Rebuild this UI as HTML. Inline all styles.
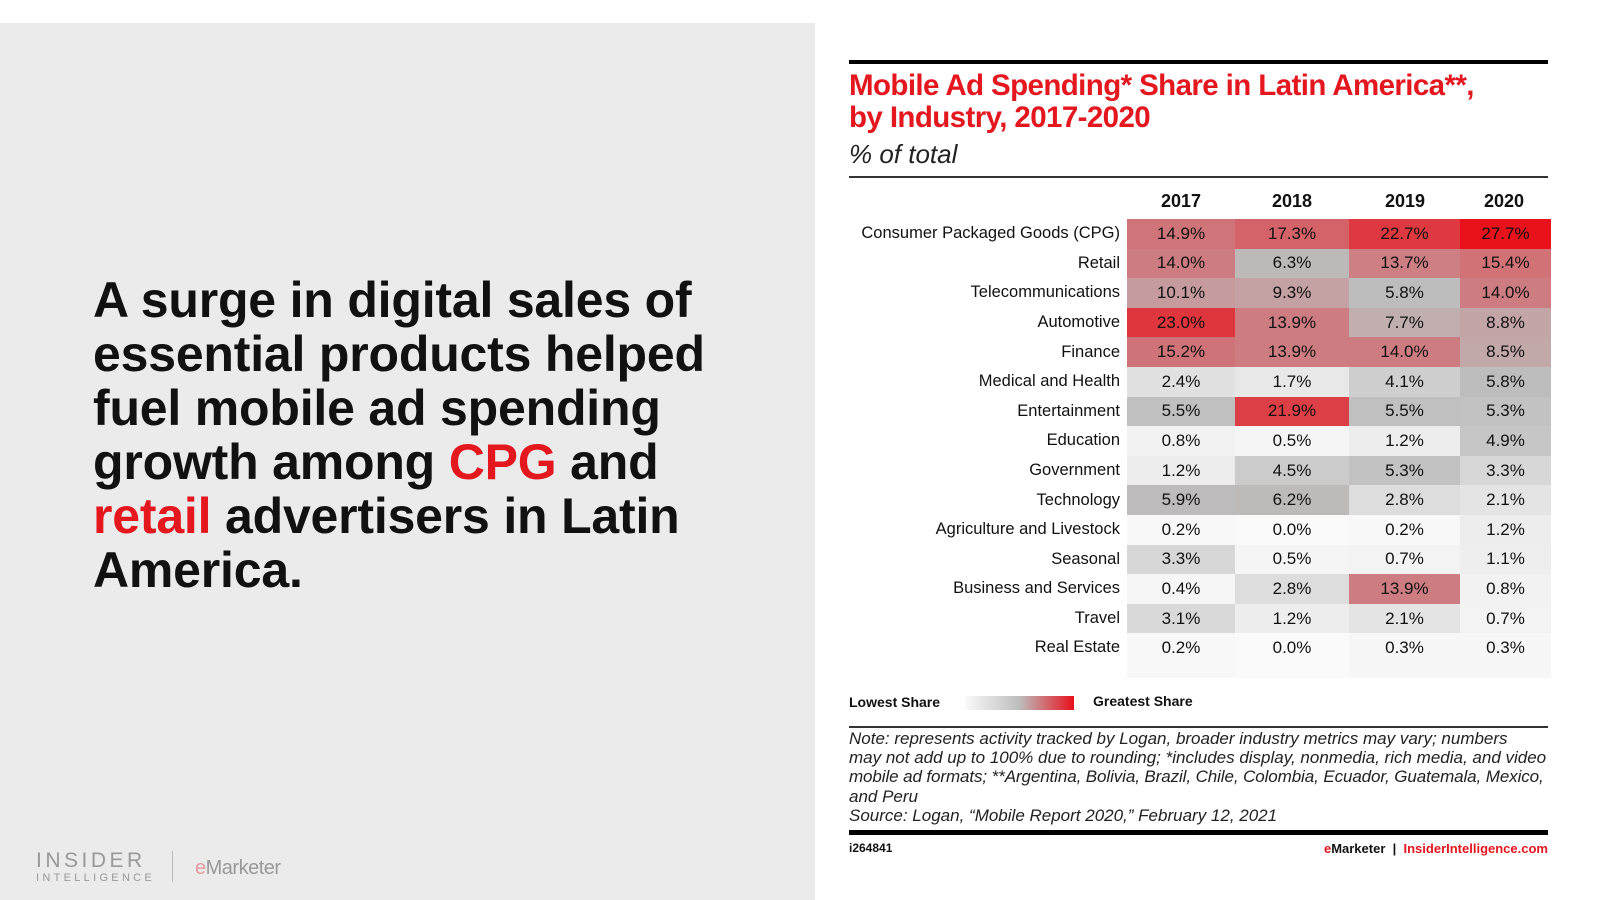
<!DOCTYPE html>
<html><head><meta charset="utf-8">
<style>
*{margin:0;padding:0;box-sizing:border-box}
body{width:1600px;height:900px;background:#fff;position:relative;overflow:hidden;font-family:"Liberation Sans",sans-serif;color:#111}
.abs{position:absolute}
#left{left:0;top:23px;width:815px;height:877px;background:#ebebeb}
#head{left:93px;top:273px;font-weight:bold;font-size:50px;line-height:54px;color:#111;letter-spacing:-0.2px}
.red{color:#e4161e}
#title{left:849px;top:70px;font-weight:bold;font-size:29.5px;line-height:32px;color:#e4161e;letter-spacing:-0.6px}
#sub{left:849px;top:139px;font-style:italic;font-size:26px;color:#222}
table{position:absolute;left:849px;top:219px;border-collapse:collapse;table-layout:fixed;font-size:17px}
td{height:29.6px;padding:0;text-align:center;color:#111}
td.l{text-align:right;padding-right:7px;background:#fff;font-size:16.5px}
tr.last td{height:45px;vertical-align:top;padding-top:5px}
.yr{top:191px;font-weight:bold;font-size:18px;width:100px;text-align:center}
.note{left:849px;top:729px;width:705px;font-style:italic;font-size:17px;line-height:19.2px;color:#222;white-space:nowrap}
</style></head><body>
<div id="left" class="abs"></div>
<div id="head" class="abs">A surge in digital sales of<br>essential products helped<br>fuel mobile ad spending<br>growth among <span class="red">CPG</span> and<br><span class="red">retail</span> advertisers in Latin<br>America.</div>
<div class="abs" style="left:36px;top:849px;font-size:21px;letter-spacing:3.5px;color:#999">INSIDER</div>
<div class="abs" style="left:36px;top:872px;font-size:11px;letter-spacing:3.3px;color:#999">INTELLIGENCE</div>
<div class="abs" style="left:172px;top:851px;width:1px;height:31px;background:#bbb"></div>
<div class="abs" style="left:195px;top:857px;font-size:20px;color:#999;letter-spacing:-0.5px"><span style="color:#e89a9f">e</span>Marketer</div>

<div class="abs" style="left:849px;top:60px;width:699px;height:4px;background:#000"></div>
<div id="title" class="abs">Mobile Ad Spending* Share in Latin America**,<br>by Industry, 2017-2020</div>
<div id="sub" class="abs">% of total</div>
<div class="abs" style="left:849px;top:176px;width:699px;height:2px;background:#333"></div>
<div class="abs yr" style="left:1131px">2017</div>
<div class="abs yr" style="left:1242px">2018</div>
<div class="abs yr" style="left:1355px">2019</div>
<div class="abs yr" style="left:1454px">2020</div>

<table>
<colgroup><col style="width:278px"><col style="width:108px"><col style="width:114px"><col style="width:111px"><col style="width:91px"></colgroup>
<tr><td class="l">Consumer Packaged Goods (CPG)</td><td style="background:rgb(207,117,122)">14.9%</td><td style="background:rgb(212,99,105)">17.3%</td><td style="background:rgb(222,57,64)">22.7%</td><td style="background:rgb(232,17,28)">27.7%</td></tr>
<tr><td class="l">Retail</td><td style="background:rgb(205,125,129)">14.0%</td><td style="background:rgb(190,185,185)">6.3%</td><td style="background:rgb(205,127,131)">13.7%</td><td style="background:rgb(208,114,118)">15.4%</td></tr>
<tr><td class="l">Telecommunications</td><td style="background:rgb(197,155,157)">10.1%</td><td style="background:rgb(196,161,163)">9.3%</td><td style="background:rgb(189,189,189)">5.8%</td><td style="background:rgb(205,125,129)">14.0%</td></tr>
<tr><td class="l">Automotive</td><td style="background:rgb(223,54,62)">23.0%</td><td style="background:rgb(205,125,130)">13.9%</td><td style="background:rgb(193,174,175)">7.7%</td><td style="background:rgb(195,165,167)">8.8%</td></tr>
<tr><td class="l">Finance</td><td style="background:rgb(207,115,120)">15.2%</td><td style="background:rgb(205,125,130)">13.9%</td><td style="background:rgb(205,125,129)">14.0%</td><td style="background:rgb(194,168,169)">8.5%</td></tr>
<tr><td class="l">Medical and Health</td><td style="background:rgb(225,225,225)">2.4%</td><td style="background:rgb(232,232,232)">1.7%</td><td style="background:rgb(207,207,207)">4.1%</td><td style="background:rgb(189,189,189)">5.8%</td></tr>
<tr><td class="l">Entertainment</td><td style="background:rgb(192,192,192)">5.5%</td><td style="background:rgb(220,63,70)">21.9%</td><td style="background:rgb(192,192,192)">5.5%</td><td style="background:rgb(194,194,194)">5.3%</td></tr>
<tr><td class="l">Education</td><td style="background:rgb(242,242,242)">0.8%</td><td style="background:rgb(245,245,245)">0.5%</td><td style="background:rgb(237,237,237)">1.2%</td><td style="background:rgb(198,198,198)">4.9%</td></tr>
<tr><td class="l">Government</td><td style="background:rgb(237,237,237)">1.2%</td><td style="background:rgb(203,203,203)">4.5%</td><td style="background:rgb(194,194,194)">5.3%</td><td style="background:rgb(215,215,215)">3.3%</td></tr>
<tr><td class="l">Technology</td><td style="background:rgb(189,187,187)">5.9%</td><td style="background:rgb(190,186,186)">6.2%</td><td style="background:rgb(221,221,221)">2.8%</td><td style="background:rgb(228,228,228)">2.1%</td></tr>
<tr><td class="l">Agriculture and Livestock</td><td style="background:rgb(248,248,248)">0.2%</td><td style="background:rgb(250,250,250)">0.0%</td><td style="background:rgb(248,248,248)">0.2%</td><td style="background:rgb(237,237,237)">1.2%</td></tr>
<tr><td class="l">Seasonal</td><td style="background:rgb(215,215,215)">3.3%</td><td style="background:rgb(245,245,245)">0.5%</td><td style="background:rgb(243,243,243)">0.7%</td><td style="background:rgb(238,238,238)">1.1%</td></tr>
<tr><td class="l">Business and Services</td><td style="background:rgb(246,246,246)">0.4%</td><td style="background:rgb(221,221,221)">2.8%</td><td style="background:rgb(205,125,130)">13.9%</td><td style="background:rgb(242,242,242)">0.8%</td></tr>
<tr><td class="l">Travel</td><td style="background:rgb(217,217,217)">3.1%</td><td style="background:rgb(237,237,237)">1.2%</td><td style="background:rgb(228,228,228)">2.1%</td><td style="background:rgb(243,243,243)">0.7%</td></tr>
<tr class="last"><td class="l">Real Estate</td><td style="background:rgb(248,248,248)">0.2%</td><td style="background:rgb(250,250,250)">0.0%</td><td style="background:rgb(247,247,247)">0.3%</td><td style="background:rgb(247,247,247)">0.3%</td></tr>
</table>

<div class="abs" style="left:849px;top:694px;font-weight:bold;font-size:14px">Lowest Share</div>
<div class="abs" style="left:965px;top:696px;width:109px;height:14px;background:linear-gradient(to right,#fafafa,#bdbdbd 50%,#e8111c)"></div>
<div class="abs" style="left:1093px;top:693px;font-weight:bold;font-size:14px">Greatest Share</div>
<div class="abs" style="left:849px;top:726px;width:699px;height:2px;background:#333"></div>
<div class="abs note">Note: represents activity tracked by Logan, broader industry metrics may vary; numbers<br>may not add up to 100% due to rounding; *includes display, nonmedia, rich media, and video<br><span style="letter-spacing:-0.1px">mobile ad formats; **Argentina, Bolivia, Brazil, Chile, Colombia, Ecuador, Guatemala, Mexico,</span><br>and Peru<br>Source: Logan, “Mobile Report 2020,” February 12, 2021</div>
<div class="abs" style="left:849px;top:830px;width:699px;height:5px;background:#000"></div>
<div class="abs" style="left:849px;top:841px;font-weight:bold;font-size:12px">i264841</div>
<div class="abs" style="left:1300px;width:248px;text-align:right;top:841px;font-weight:bold;font-size:13px;color:#e4161e">e<span style="color:#111">Marketer</span> <span style="color:#111">&nbsp;|&nbsp;</span> InsiderIntelligence.com</div>
</body></html>
